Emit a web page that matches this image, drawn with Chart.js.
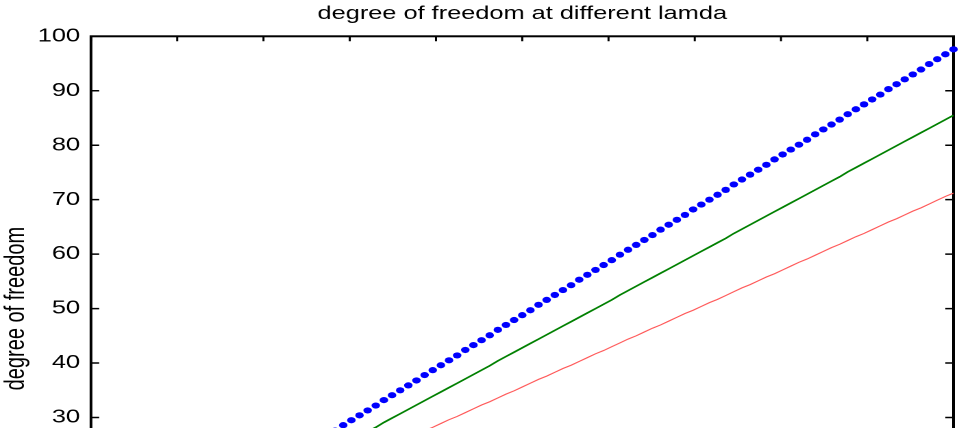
<!DOCTYPE html>
<html>
<head>
<meta charset="utf-8">
<script src="https://cdn.jsdelivr.net/npm/chart.js@4/dist/chart.umd.min.js"></script>
<style>
  html, body { margin: 0; padding: 0; background: #fff; overflow: hidden; }
  #wrap { width: 700px; height: 600px; transform: scaleX(1.37); transform-origin: 0 0; }
</style>
</head>
<body>
<div id="wrap"><canvas id="c" width="700" height="600"></canvas></div>
<script>
// sample index along the horizontal axis
const sampleIndex = [
  0,1,2,3,4,5,6,7,8,9,10,11,12,13,14,15,16,17,18,19,20,21,22,23,24,25,26,27,28,29,
  30,31,32,33,34,35,36,37,38,39,40,41,42,43,44,45,46,47,48,49,50,51,52,53,54,55,56,57,58,59,
  60,61,62,63,64,65,66,67,68,69,70,71,72,73,74,75,76,77,78,79,80,81,82,83,84,85,86,87,88,89,
  90,91,92,93,94,95,96,97,98,99,100,101,102,103,104,105,106
];

// degree of freedom, smallest lambda (blue dots)
const dofLow = [
  0.0,0.9,1.8,2.8,3.7,4.6,5.5,6.4,7.4,8.3,9.2,10.1,11.1,12.0,12.9,13.8,14.7,15.7,16.6,17.5,
  18.4,19.3,20.3,21.2,22.1,23.0,23.9,24.9,25.8,26.7,27.6,28.6,29.5,30.4,31.3,32.2,33.2,34.1,35.0,35.9,
  36.8,37.8,38.7,39.6,40.5,41.4,42.4,43.3,44.2,45.1,46.1,47.0,47.9,48.8,49.7,50.7,51.6,52.5,53.4,54.3,
  55.3,56.2,57.1,58.0,58.9,59.9,60.8,61.7,62.6,63.5,64.5,65.4,66.3,67.2,68.2,69.1,70.0,70.9,71.8,72.8,
  73.7,74.6,75.5,76.4,77.4,78.3,79.2,80.1,81.0,82.0,82.9,83.8,84.7,85.7,86.6,87.5,88.4,89.3,90.3,91.2,
  92.1,93.0,93.9,94.9,95.8,96.7,97.6
];

// degree of freedom, middle lambda (green line)
const dofMid = [
  0.0,0.8,1.6,2.4,3.2,4.0,4.8,5.6,6.5,7.3,8.1,8.9,9.7,10.5,11.3,12.1,12.9,13.7,14.5,15.3,
  16.1,16.9,17.8,18.6,19.4,20.2,21.0,21.8,22.6,23.4,24.2,25.0,25.8,26.6,27.4,28.2,29.1,29.9,30.7,31.5,
  32.3,33.1,33.9,34.7,35.5,36.3,37.1,37.9,38.7,39.5,40.4,41.2,42.0,42.8,43.6,44.4,45.2,46.0,46.8,47.6,
  48.4,49.2,50.0,50.8,51.6,52.5,53.3,54.1,54.9,55.7,56.5,57.3,58.1,58.9,59.7,60.5,61.3,62.1,62.9,63.8,
  64.6,65.4,66.2,67.0,67.8,68.6,69.4,70.2,71.0,71.8,72.6,73.4,74.2,75.1,75.9,76.7,77.5,78.3,79.1,79.9,
  80.7,81.5,82.3,83.1,83.9,84.7,85.5
];

// degree of freedom, largest lambda (red line)
const dofHigh = [
  0.0,0.7,1.3,2.0,2.7,3.4,4.0,4.7,5.4,6.0,6.7,7.4,8.1,8.7,9.4,10.1,10.8,11.4,12.1,12.8,
  13.4,14.1,14.8,15.5,16.1,16.8,17.5,18.1,18.8,19.5,20.2,20.8,21.5,22.2,22.8,23.5,24.2,24.9,25.5,26.2,
  26.9,27.6,28.2,28.9,29.6,30.2,30.9,31.6,32.3,32.9,33.6,34.3,34.9,35.6,36.3,37.0,37.6,38.3,39.0,39.6,
  40.3,41.0,41.7,42.3,43.0,43.7,44.4,45.0,45.7,46.4,47.0,47.7,48.4,49.1,49.7,50.4,51.1,51.7,52.4,53.1,
  53.8,54.4,55.1,55.8,56.4,57.1,57.8,58.5,59.1,59.8,60.5,61.2,61.8,62.5,63.2,63.8,64.5,65.2,65.9,66.5,
  67.2,67.9,68.5,69.2,69.9,70.6,71.2
];

// axis tick positions
const xTickValues = [0, 10.6, 21.2, 31.8, 42.4, 53, 63.6, 74.2, 84.8, 95.4, 106];
const yTickValues = [0, 10, 20, 30, 40, 50, 60, 70, 80, 90, 100];

const toPoints = arr => sampleIndex.map((x, i) => ({ x: x, y: arr[i] }));

// box around the axes with short inward tick marks on all four sides
const boxFrame = {
  id: 'boxFrame',
  beforeDatasetsDraw(chart) {
    const { ctx, chartArea: a, scales: { x, y } } = chart;
    ctx.save();
    ctx.strokeStyle = '#000';
    ctx.lineWidth = 2;
    ctx.strokeRect(a.left, a.top, a.right - a.left, a.bottom - a.top);
    ctx.lineWidth = 1.5;
    ctx.beginPath();
    x.ticks.forEach(t => {
      const px = x.getPixelForValue(t.value);
      ctx.moveTo(px, a.top); ctx.lineTo(px, a.top + 5);
      ctx.moveTo(px, a.bottom); ctx.lineTo(px, a.bottom - 5);
    });
    y.ticks.forEach(t => {
      const py = y.getPixelForValue(t.value);
      ctx.moveTo(a.left, py); ctx.lineTo(a.left + 6, py);
      ctx.moveTo(a.right, py); ctx.lineTo(a.right - 6, py);
    });
    ctx.stroke();
    ctx.restore();
  }
};

const FONT = '"Liberation Sans", Arial, Helvetica, sans-serif';

new Chart(document.getElementById('c'), {
  type: 'line',
  data: {
    datasets: [
      {
        data: toPoints(dofHigh),
        borderColor: 'rgb(255,90,90)',
        borderWidth: 1.1,
        pointRadius: 0,
        fill: false,
        tension: 0
      },
      {
        data: toPoints(dofMid),
        borderColor: '#008000',
        borderWidth: 1.6,
        pointRadius: 0,
        fill: false,
        tension: 0
      },
      {
        data: toPoints(dofLow),
        showLine: false,
        pointRadius: 3.1,
        pointBorderWidth: 0,
        pointBackgroundColor: '#0000ff',
        borderColor: '#0000ff',
        clip: 6
      }
    ]
  },
  options: {
    responsive: false,
    animation: false,
    devicePixelRatio: 2,
    layout: { padding: { top: 0, left: 0, right: 3, bottom: 18 } },
    plugins: {
      legend: { display: false },
      tooltip: { enabled: false },
      title: {
        display: true,
        fullSize: false,
        text: 'degree of freedom at different lamda',
        color: '#000',
        font: { family: FONT, size: 18.5, weight: 'normal' },
        padding: { top: 3, bottom: 11.1 }
      }
    },
    scales: {
      x: {
        type: 'linear',
        min: 0,
        max: 106,
        afterBuildTicks: s => { s.ticks = xTickValues.map(v => ({ value: v })); },
        afterFit: s => { s.height = 0; },
        ticks: { display: false },
        grid: { display: false, drawTicks: false },
        border: { display: false }
      },
      y: {
        type: 'linear',
        min: 0,
        max: 100,
        afterBuildTicks: s => { s.ticks = yTickValues.map(v => ({ value: v })); },
        afterFit: s => { s.width = 66.4; },
        ticks: {
          color: '#000',
          padding: 8,
          font: { family: FONT, size: 18.5 }
        },
        grid: { display: false, drawTicks: false },
        border: { display: false },
        title: {
          display: true,
          text: 'degree of freedom',
          color: '#000',
          font: { family: FONT, size: 20 },
          padding: { top: 0, bottom: 0 }
        }
      }
    }
  },
  plugins: [boxFrame]
});
</script>
</body>
</html>
